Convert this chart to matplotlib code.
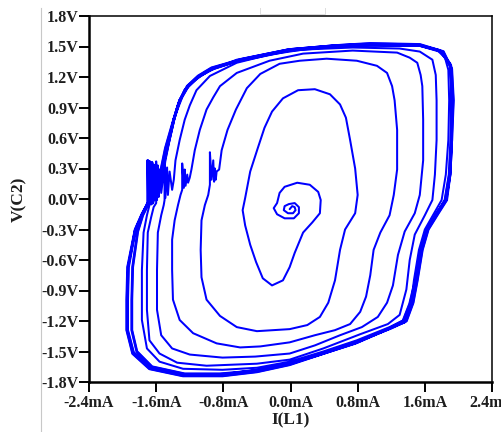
import matplotlib
matplotlib.use("Agg")
import matplotlib.pyplot as plt
from matplotlib.lines import Line2D

# ---------------- data (I in mA, V in volts) ----------------
spiral_I = [-0.01, 0.02, 0.05, 0.06, 0.03, -0.03, -0.08, -0.07, -0.02, 0.05, 0.10, 0.10, 0.04, -0.07, -0.16,
            -0.20, -0.16, -0.13, -0.07, 0.08, 0.23, 0.33, 0.36, 0.35, 0.26, 0.15, 0.09, 0.05, -0.01, -0.09,
            -0.22, -0.33, -0.41, -0.48, -0.54, -0.57, -0.54]
spiral_V = [-0.10, -0.07, -0.08, -0.11, -0.14, -0.14, -0.11, -0.07, -0.05, -0.04, -0.08, -0.14, -0.19, -0.19, -0.15,
            -0.09, -0.04, 0.06, 0.12, 0.16, 0.14, 0.07, -0.01, -0.14, -0.23, -0.33, -0.45, -0.53, -0.67, -0.80,
            -0.85, -0.78, -0.62, -0.45, -0.26, -0.11, 0.01]

loop1_I = [-0.48, -0.39, -0.31, -0.22, -0.09, 0.09, 0.29, 0.47, 0.59, 0.66, 0.71, 0.77, 0.80, 0.77, 0.65,
           0.59, 0.53, 0.45, 0.35, 0.20, -0.01, -0.40, -0.64, -0.84, -1.00, -1.06, -1.07, -1.06, -1.02, -0.98,
           -0.96, -0.96, -0.94, -0.92, -0.91, -0.90, -0.89, -0.88, -0.85]
loop1_V = [0.27, 0.50, 0.70, 0.86, 0.99, 1.07, 1.08, 1.03, 0.93, 0.80, 0.58, 0.30, 0.04, -0.14, -0.30,
           -0.50, -0.80, -1.02, -1.16, -1.24, -1.28, -1.30, -1.26, -1.15, -0.99, -0.77, -0.50, -0.21, -0.06, 0.04,
           0.14, 0.46, 0.19, 0.38, 0.17, 0.30, 0.19, 0.27, 0.29]

loop2_I = [-0.82, -0.75, -0.65, -0.52, -0.36, -0.13, 0.11, 0.43, 0.79, 1.03, 1.15, 1.21, 1.24, 1.27, 1.27,
           1.23, 1.18, 1.07, 0.99, 0.95, 0.90, 0.83, 0.71, 0.53, 0.29, -0.01, -0.36, -0.60, -0.88, -1.16,
           -1.32, -1.40, -1.41, -1.41, -1.38, -1.34, -1.31,
           -1.29, -1.29, -1.27, -1.26, -1.25, -1.23, -1.22, -1.20, -1.18]
loop2_V = [0.48, 0.68, 0.88, 1.09, 1.23, 1.33, 1.36, 1.38, 1.36, 1.31, 1.24, 1.11, 0.97, 0.68, 0.29,
           0.04, -0.16, -0.33, -0.50, -0.75, -0.96, -1.11, -1.23, -1.29, -1.34, -1.41, -1.45, -1.46, -1.42, -1.32,
           -1.19, -0.99, -0.70, -0.40, -0.21, -0.06, 0.04,
           0.09, 0.35, 0.11, 0.29, 0.13, 0.24, 0.16, 0.21, 0.29]

loop3_I = [-1.14, -1.08, -1.00, -0.92, -0.84, -0.64, -0.25, 0.15, 0.74, 1.27, 1.42, 1.51, 1.55, 1.57, 1.58,
           1.58, 1.54, 1.48, 1.36, 1.28, 1.22, 1.15, 1.04, 0.85, 0.59, 0.29, -0.01, -0.42, -0.81, -1.20,
           -1.41, -1.54, -1.59, -1.59, -1.58, -1.54, -1.51,
           -1.50, -1.50, -1.49, -1.47, -1.46, -1.44, -1.41, -1.39]
loop3_V = [0.48, 0.68, 0.88, 1.00, 1.11, 1.24, 1.36, 1.43, 1.46, 1.44, 1.39, 1.34, 1.22, 1.11, 0.78,
           0.38, 0.04, -0.14, -0.32, -0.55, -0.85, -1.02, -1.16, -1.26, -1.34, -1.44, -1.52, -1.55, -1.56, -1.53,
           -1.47, -1.34, -1.09, -0.70, -0.33, -0.16, -0.06,
           -0.01, 0.36, 0.01, 0.31, 0.04, 0.27, 0.09, 0.19]

loop4_I = [-1.37, -1.32, -1.26, -1.20, -1.12, -0.96, -0.64, -0.25, 0.15, 0.74, 1.30, 1.54, 1.69, 1.73, 1.74,
           1.74, 1.72, 1.69, 1.60, 1.48, 1.42, 1.38, 1.30, 1.16, 0.83, 0.39, -0.01, -0.40, -1.00, -1.35,
           -1.56, -1.68, -1.71, -1.71, -1.70, -1.66, -1.63,
           -1.60, -1.60, -1.59, -1.58, -1.57, -1.56, -1.54, -1.52]
loop4_V = [0.38, 0.58, 0.78, 0.92, 1.07, 1.21, 1.34, 1.42, 1.47, 1.49, 1.48, 1.45, 1.37, 1.22, 0.97,
           0.58, 0.24, -0.01, -0.16, -0.35, -0.60, -0.89, -1.14, -1.23, -1.33, -1.47, -1.58, -1.62, -1.64, -1.61,
           -1.52, -1.39, -1.09, -0.70, -0.33, -0.18, -0.08,
           -0.04, 0.37, -0.01, 0.33, 0.02, 0.29, 0.06, 0.19]

loop5_I = [-1.49, -1.44, -1.37, -1.29, -1.20, -1.02, -0.64, -0.04, 0.55, 0.95, 1.54, 1.74, 1.84, 1.88, 1.89,
           1.88, 1.85, 1.80, 1.71, 1.60, 1.53, 1.47, 1.44, 1.35, 1.18, 0.79, 0.39, -0.01, -0.40, -0.81,
           -1.28, -1.56, -1.71, -1.77, -1.77, -1.75, -1.71, -1.68,
           -1.65, -1.65, -1.64, -1.63, -1.62, -1.60, -1.59, -1.57, -1.54]
loop5_V = [0.38, 0.58, 0.83, 1.00, 1.13, 1.25, 1.37, 1.47, 1.51, 1.52, 1.51, 1.47, 1.39, 1.27, 0.97,
           0.58, 0.24, -0.01, -0.14, -0.30, -0.50, -0.80, -1.01, -1.19, -1.26, -1.39, -1.50, -1.60, -1.66, -1.68,
           -1.67, -1.60, -1.47, -1.19, -0.70, -0.33, -0.16, -0.06,
           -0.01, 0.36, -0.03, 0.34, 0.00, 0.30, 0.04, 0.23, 0.14]

loop6_I = [-1.51, -1.46, -1.39, -1.32, -1.23, -1.10, -0.94, -0.60, -0.01, 0.55, 0.95, 1.54, 1.82, 1.92, 1.94,
           1.92, 1.90, 1.85, 1.74, 1.63, 1.55, 1.49, 1.45, 1.36, 1.18, 0.79, 0.39, -0.01, -0.40, -0.81,
           -1.28, -1.68, -1.88, -1.95, -1.95, -1.94, -1.85, -1.77, -1.71,
           -1.70, -1.70, -1.69, -1.68, -1.66, -1.65, -1.64, -1.62, -1.58]
loop6_V = [0.33, 0.53, 0.78, 0.97, 1.11, 1.21, 1.29, 1.37, 1.47, 1.51, 1.53, 1.52, 1.45, 1.28, 0.97,
           0.58, 0.24, -0.01, -0.14, -0.30, -0.50, -0.80, -1.02, -1.21, -1.27, -1.41, -1.52, -1.63, -1.70, -1.74,
           -1.74, -1.67, -1.52, -1.29, -0.99, -0.67, -0.30, -0.15, -0.06,
           -0.03, 0.38, -0.06, 0.35, -0.04, 0.31, -0.01, 0.24, 0.17]

loop7_I = [-1.54, -1.49, -1.41, -1.34, -1.26, -1.13, -0.96, -0.66, -0.01, 0.55, 0.95, 1.54, 1.78, 1.90, 1.92,
           1.91, 1.89, 1.84, 1.73, 1.61, 1.54, 1.48, 1.42, 1.34, 1.16, 0.77, 0.35, -0.01, -0.42, -0.84,
           -1.26, -1.65, -1.83, -1.89, -1.89, -1.88, -1.82, -1.76, -1.70,
           -1.68, -1.68, -1.66, -1.65, -1.64, -1.63, -1.62, -1.60, -1.58, -1.56]
loop7_V = [0.30, 0.50, 0.73, 0.92, 1.07, 1.18, 1.27, 1.35, 1.46, 1.50, 1.51, 1.51, 1.46, 1.33, 1.07,
           0.58, 0.24, -0.01, -0.16, -0.32, -0.52, -0.82, -1.03, -1.20, -1.28, -1.42, -1.53, -1.62, -1.69, -1.72,
           -1.72, -1.65, -1.50, -1.29, -0.99, -0.67, -0.32, -0.16, -0.06,
           -0.01, 0.37, -0.05, 0.36, -0.04, 0.33, -0.01, 0.29, 0.04, 0.19]

loop8_I = [-1.52, -1.46, -1.39, -1.32, -1.22, -1.08, -0.90, -0.60, -0.01, 0.55, 0.95, 1.54, 1.79, 1.91, 1.92,
           1.92, 1.90, 1.86, 1.76, 1.64, 1.57, 1.51, 1.46, 1.38, 1.20, 0.80, 0.40, -0.01, -0.39, -0.82,
           -1.27, -1.66, -1.87, -1.94, -1.94, -1.93, -1.85, -1.76, -1.70]
loop8_V = [0.33, 0.53, 0.78, 0.97, 1.11, 1.21, 1.29, 1.37, 1.47, 1.51, 1.52, 1.51, 1.45, 1.31, 1.07,
           0.58, 0.24, -0.01, -0.14, -0.30, -0.50, -0.80, -1.02, -1.20, -1.27, -1.40, -1.51, -1.61, -1.68, -1.73,
           -1.73, -1.66, -1.51, -1.29, -0.99, -0.67, -0.31, -0.14, -0.04]

x_tick_values = [-2.4, -1.6, -0.8, 0.0, 0.8, 1.6, 2.4]
x_tick_labels = ["-2.4mA", "-1.6mA", "-0.8mA", "0.0mA", "0.8mA", "1.6mA", "2.4mA"]
y_tick_values = [-1.8, -1.5, -1.2, -0.9, -0.6, -0.3, 0.0, 0.3, 0.6, 0.9, 1.2, 1.5, 1.8]
y_tick_labels = ["-1.8V", "-1.5V", "-1.2V", "-0.9V", "-0.6V", "-0.3V", "0.0V",
                 "0.3V", "0.6V", "0.9V", "1.2V", "1.5V", "1.8V"]
x_label = "I(L1)"
y_label = "V(C2)"

# ---------------- assemble trajectory ----------------
seg_I = [spiral_I, loop1_I, loop2_I, loop3_I, loop4_I, loop5_I, loop6_I, loop7_I, loop8_I]
seg_V = [spiral_V, loop1_V, loop2_V, loop3_V, loop4_V, loop5_V, loop6_V, loop7_V, loop8_V]
I_all = [v for s in seg_I for v in s]
V_all = [v for s in seg_V for v in s]
band_I = [v for s in seg_I[6:] for v in s]
band_V = [v for s in seg_V[6:] for v in s]

W, H = 502, 432
fig = plt.figure(figsize=(W / 100, H / 100), dpi=100)
fig.patch.set_facecolor("white")
ax = fig.add_axes([89 / W, 1 - 382 / H, 403 / W, 366 / H])

ax.plot(I_all, V_all, color="#0000ff", lw=1.45, solid_joinstyle="round", solid_capstyle="round")
ax.plot(band_I, band_V, color="#0000ff", lw=2.0, solid_joinstyle="round", solid_capstyle="round")

ax.set_xlim(-2.4, 2.4)
ax.set_ylim(-1.8, 1.8)

font = dict(family="Liberation Serif", weight="bold", size=11.5)
tcol = "#1e1e1e"
ax.set_xticks(x_tick_values)
ax.set_xticklabels(x_tick_labels, fontdict=font, color=tcol)
ax.set_yticks(y_tick_values)
ax.set_yticklabels(y_tick_labels, fontdict=font, color=tcol)
ax.tick_params(axis="both", direction="out", length=7, width=1.4, color="black")
ax.tick_params(axis="y", pad=0.5)
ax.tick_params(axis="x", pad=2.5)

for side in ("left", "bottom"):
    ax.spines[side].set_linewidth(1.8)
for side in ("top", "right"):
    ax.spines[side].set_linewidth(1.1)
for s in ax.spines.values():
    s.set_color("black")

ax.set_xlabel(x_label, fontdict=dict(family="Liberation Serif", weight="bold", size=12.5), color=tcol)
ax.xaxis.set_label_coords(0.5, -0.082)
ax.set_ylabel(y_label, fontdict=dict(family="Liberation Serif", weight="bold", size=12.5), color=tcol)
ax.yaxis.set_label_coords(-0.154, 0.5)

# faint grey decorations outside the plot
fig.add_artist(Line2D([41 / W, 41 / W], [0, 1 - 8 / H], color="#c8c8c8", lw=0.8))
gx = [260 / W, 260 / W, 325 / W, 325 / W]
gy = [1 - 8 / H, 1 - 14 / H, 1 - 14 / H, 1 - 8 / H]
fig.add_artist(Line2D(gx, gy, color="#dddddd", lw=0.7))

fig.savefig("out.png", dpi=100)
